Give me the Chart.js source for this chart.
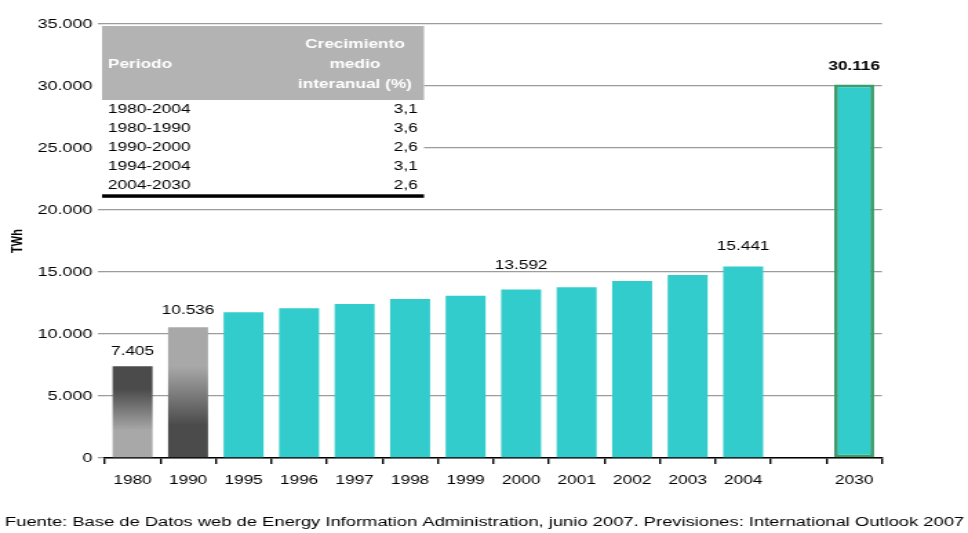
<!DOCTYPE html>
<html>
<head>
<meta charset="utf-8">
<script src="https://cdn.jsdelivr.net/npm/chart.js@4/dist/chart.umd.min.js"></script>
<style>
  html, body { margin: 0; padding: 0; background: #fff; overflow: hidden; }
  /* el lienzo se dibuja estrecho y se estira a lo ancho */
  #wrap { width: 702px; height: 533px; transform: scaleX(1.3789); transform-origin: 0 0; }
</style>
</head>
<body>
<div id="wrap"><canvas id="demandChart" width="702" height="533"></canvas></div>
<script>
// Demanda eléctrica mundial (TWh)
const years = ['1980', '1990', '1995', '1996', '1997', '1998', '1999', '2000', '2001', '2002', '2003', '2004', '', '2030'];
const twh = [7405, 10536, 11750, 12070, 12420, 12820, 13090, 13592, 13770, 14270, 14760, 15441, null, 30116];
const labeledYears = ['1980', '1990', '2000', '2004', '2030'];
const yTickValues = [0, 5000, 10000, 15000, 20000, 25000, 30000, 35000];

// Tabla de crecimiento medio interanual
const tablePeriods = ['1980-2004', '1980-1990', '1990-2000', '1994-2004', '2004-2030'];
const tableGrowth = ['3,1', '3,6', '2,6', '3,1', '2,6'];

const FONT = '"Liberation Sans", Arial, Helvetica, sans-serif';
const CYAN = '#33cccc';

function fmt(v) {
    return String(v).replace(/\B(?=(\d{3})+(?!\d))/g, '.');
}

// Relleno de cada barra: degradados grises para 1980 y 1990
function barFill(ctx) {
    const chart = ctx.chart;
    const i = ctx.dataIndex;
    const year = years[i];
    if (year !== '1980' && year !== '1990') return CYAN;
    if (!chart.chartArea) return '#808080';
    const y = chart.scales.y;
    const top = y.getPixelForValue(twh[i]);
    const base = y.getPixelForValue(0);
    const g = chart.ctx.createLinearGradient(0, top, 0, base);
    const dark = '#4b4b4b', light = '#a8a8a8';
    if (year === '1980') {
        g.addColorStop(0, dark);
        g.addColorStop(0.25, dark);
        g.addColorStop(0.7, light);
        g.addColorStop(1, light);
    } else {
        g.addColorStop(0, light);
        g.addColorStop(0.3, light);
        g.addColorStop(0.75, dark);
        g.addColorStop(1, dark);
    }
    return g;
}

// Etiquetas de valor, tabla y fuente
const extrasPlugin = {
    id: 'extras',
    afterDraw(chart) {
        const ctx = chart.ctx;
        const meta = chart.getDatasetMeta(0);
        const gaps = { '1980': 15, '1990': 17, '2000': 24, '2004': 20, '2030': 18 };

        ctx.save();
        ctx.textAlign = 'center';
        ctx.textBaseline = 'middle';
        ctx.fillStyle = '#000';
        labeledYears.forEach(yr => {
            const i = years.indexOf(yr);
            const bar = meta.data[i];
            ctx.font = (yr === '2030' ? 'bold ' : '') + '12.5px ' + FONT;
            ctx.fillText(fmt(twh[i]), bar.x, bar.y - gaps[yr]);
        });

        // tabla
        const tl = 74, tr = 307.5;
        ctx.fillStyle = '#fff';
        ctx.fillRect(70, 25, tr - 70, 173);
        ctx.fillStyle = '#b3b3b3';
        ctx.fillRect(tl, 26, tr - tl, 74);

        ctx.fillStyle = '#fff';
        ctx.font = 'bold 12.5px ' + FONT;
        ctx.textAlign = 'left';
        ctx.fillText('Periodo', 78.3, 65);
        ctx.textAlign = 'center';
        ctx.fillText('Crecimiento', 257.4, 45);
        ctx.fillText('medio', 257.4, 65);
        ctx.fillText('interanual (%)', 257.4, 85);

        ctx.fillStyle = '#000';
        ctx.font = '12.5px ' + FONT;
        tablePeriods.forEach((p, k) => {
            const ty = 110 + k * 18.8;
            ctx.textAlign = 'left';
            ctx.fillText(p, 78.3, ty);
            ctx.textAlign = 'right';
            ctx.fillText(tableGrowth[k], 303, ty);
        });
        ctx.fillRect(tl, 194.3, tr - tl, 3.5);

        // fuente
        const note = 'Fuente: Base de Datos web de Energy Information Administration, junio 2007. Previsiones: International Outlook 2007';
        ctx.font = '13px ' + FONT;
        const w = ctx.measureText(note).width;
        const size = 13 * 696 / w;
        ctx.font = size.toFixed(2) + 'px ' + FONT;
        ctx.textAlign = 'left';
        ctx.fillText(note, 3.6, 522);
        ctx.restore();
    }
};

new Chart(document.getElementById('demandChart'), {
    type: 'bar',
    data: {
        labels: years,
        datasets: [{
            data: twh,
            backgroundColor: barFill,
            borderColor: ctx => years[ctx.dataIndex] === '2030' ? '#3a9d6c' : 'rgba(0,0,0,0)',
            borderWidth: ctx => years[ctx.dataIndex] === '2030' ? 2.8 : 0,
            borderSkipped: false,
            barPercentage: 0.72,
            categoryPercentage: 1
        }]
    },
    options: {
        responsive: false,
        animation: false,
        layout: { padding: { left: 0, right: 62.4, top: 24, bottom: 0 } },
        plugins: {
            legend: { display: false },
            tooltip: { enabled: false }
        },
        scales: {
            x: {
                offset: true,
                afterFit: s => { s.height = 75; },
                grid: {
                    offset: true,
                    drawOnChartArea: false,
                    drawTicks: true,
                    tickLength: 6,
                    color: '#000',
                    lineWidth: 1.4
                },
                border: { color: '#000', width: 1.5 },
                ticks: {
                    autoSkip: false,
                    maxRotation: 0,
                    padding: 9,
                    color: '#000',
                    font: { family: FONT, size: 12.5 }
                }
            },
            y: {
                min: 0,
                max: 35000,
                afterFit: s => { s.width = 76; },
                afterBuildTicks: s => { s.ticks = yTickValues.map(v => ({ value: v })); },
                grid: {
                    color: '#9c9c9c',
                    lineWidth: 1.3,
                    tickLength: 5
                },
                border: { display: false },
                ticks: {
                    padding: 4,
                    color: '#000',
                    font: { family: FONT, size: 13 },
                    callback: v => fmt(v)
                },
                title: {
                    display: true,
                    text: 'TWh',
                    color: '#000',
                    font: { family: FONT, size: 11, weight: 'bold' },
                    padding: { top: 6, bottom: 0 }
                }
            }
        }
    },
    plugins: [extrasPlugin]
});
</script>
</body>
</html>
